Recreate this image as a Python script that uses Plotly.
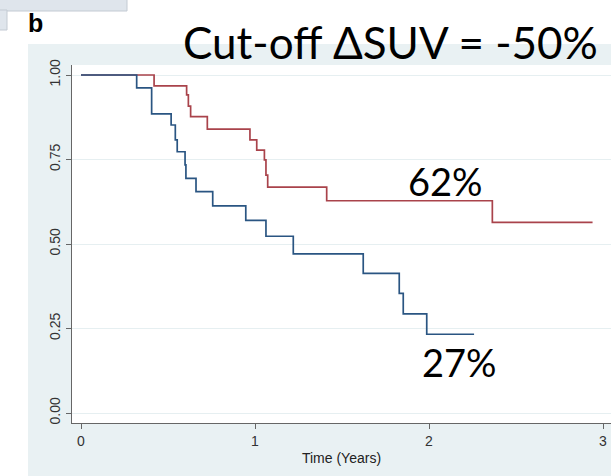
import plotly.graph_objects as go

# Kaplan-Meier step data (time in years, survival probability)
red_times = [0, 0.42, 0.607, 0.617, 0.63, 0.726, 0.971, 1.01, 1.054, 1.063, 1.073, 1.412, 2.364]
red_surv = [1.0, 0.968, 0.941, 0.908, 0.877, 0.840, 0.808, 0.778, 0.749, 0.704, 0.668, 0.628, 0.564]
red_end = 2.94

blue_times = [0, 0.320, 0.406, 0.518, 0.542, 0.553, 0.598, 0.603, 0.661, 0.757, 0.947,
              1.063, 1.220, 1.622, 1.829, 1.852, 1.987]
blue_surv = [1.0, 0.962, 0.885, 0.852, 0.808, 0.773, 0.734, 0.694, 0.655, 0.613, 0.570,
             0.523, 0.471, 0.413, 0.354, 0.293, 0.233]
blue_end = 2.259

x_ticks = [0, 1, 2, 3]
y_ticks = [0, 0.25, 0.5, 0.75, 1.0]
y_ticklabels = ["0.00", "0.25", "0.50", "0.75", "1.00"]

title_text = "Cut-off ΔSUV = -50%"
red_label = "62%"
blue_label = "27%"

W, H = 611, 476
ML, MR, MT, MB = 72, 0, 65, 53
PW, PH = W - ML - MR, H - MT - MB


def px_x(px):
    return (px - ML) / PW


def px_y(py):
    return (H - MB - py) / PH


fig = go.Figure()

fig.add_trace(go.Scatter(
    x=red_times + [red_end], y=red_surv + [red_surv[-1]],
    mode="lines", line=dict(color="#a9434b", width=1.7, shape="hv"),
    showlegend=False, hoverinfo="skip"))

fig.add_trace(go.Scatter(
    x=blue_times + [blue_end], y=blue_surv + [blue_surv[-1]],
    mode="lines", line=dict(color="#2a5582", width=1.7, shape="hv"),
    showlegend=False, hoverinfo="skip"))

shapes = [
    # outer graph region
    dict(type="rect", xref="paper", yref="paper", layer="below",
         x0=px_x(28), x1=px_x(W), y0=px_y(44), y1=px_y(H),
         fillcolor="#e9f1f3", line=dict(width=0)),
    # plot region
    dict(type="rect", xref="paper", yref="paper", layer="below",
         x0=0, x1=1, y0=0, y1=1,
         fillcolor="white", line=dict(width=0)),
    # strip of neighbouring panel at top-left
    dict(type="rect", xref="paper", yref="paper", layer="below",
         x0=px_x(-2), x1=px_x(127), y0=px_y(11), y1=px_y(-2),
         fillcolor="#dfe5ec", line=dict(color="#c3cad3", width=1)),
    dict(type="rect", xref="paper", yref="paper", layer="below",
         x0=px_x(-2), x1=px_x(7), y0=px_y(30), y1=px_y(10),
         fillcolor="#dfe5ec", line=dict(color="#c3cad3", width=1)),
]

annotations = [
    dict(text="<b>b</b>", xref="paper", yref="paper", x=px_x(26), y=px_y(23),
         xanchor="left", yanchor="middle", showarrow=False,
         font=dict(family="Liberation Sans", size=25, color="black")),
    dict(text=title_text, xref="paper", yref="paper", x=px_x(390), y=px_y(42),
         xanchor="center", yanchor="middle", showarrow=False,
         font=dict(family="Lato", size=44, color="black")),
    dict(text=red_label, xref="x", yref="y", x=2.092, y=0.686,
         xanchor="center", yanchor="middle", showarrow=False,
         font=dict(family="Lato", size=38, color="black")),
    dict(text=blue_label, xref="x", yref="y", x=2.178, y=0.151,
         xanchor="center", yanchor="middle", showarrow=False,
         font=dict(family="Lato", size=38, color="black")),
]

fig.update_layout(
    width=W, height=H,
    margin=dict(l=ML, r=MR, t=MT, b=MB, pad=0),
    paper_bgcolor="white", plot_bgcolor="rgba(0,0,0,0)",
    shapes=shapes, annotations=annotations,
    font=dict(family="Liberation Sans", size=14, color="#333333"),
    xaxis=dict(
        range=[(ML - 81) / 174, (W - MR - 81) / 174],
        tickvals=x_ticks, ticks="outside", ticklen=5, tickcolor="#666666",
        showline=True, linecolor="#666666", linewidth=1,
        showgrid=False, zeroline=False,
        title=dict(text="Time (Years)", font=dict(size=14, color="#222222"), standoff=5),
        tickfont=dict(size=14, color="#333333"),
    ),
    yaxis=dict(
        range=[(413 - (H - MB)) / 338, (413 - MT) / 338],
        tickvals=y_ticks, ticktext=y_ticklabels, tickangle=-90,
        ticks="outside", ticklen=5, tickcolor="#666666",
        showline=True, linecolor="#666666", linewidth=1,
        showgrid=True, gridcolor="#e6eff1", gridwidth=1, zeroline=False,
        tickfont=dict(size=14, color="#333333"),
    ),
)

fig.write_html("out.html")
